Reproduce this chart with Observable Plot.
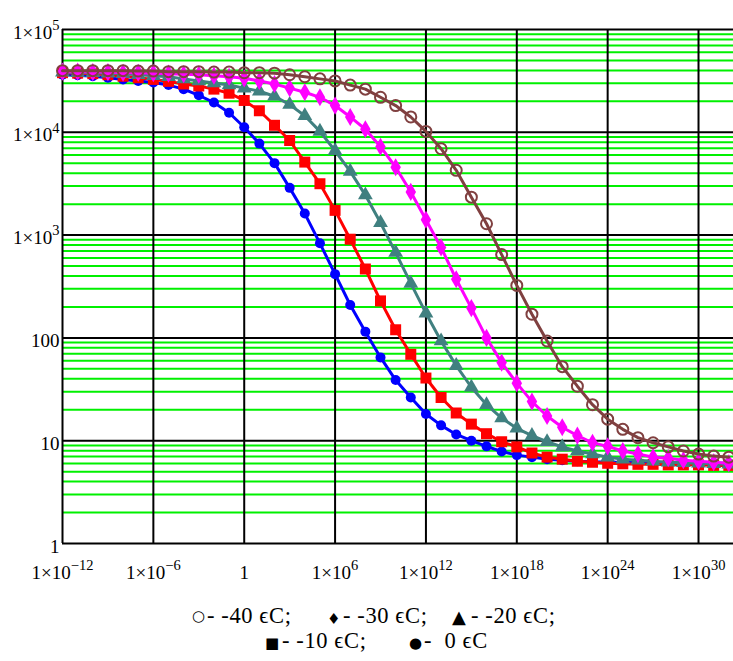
<!DOCTYPE html>
<html><head><meta charset="utf-8">
<script src="https://cdn.jsdelivr.net/npm/d3@7"></script>
<script src="https://cdn.jsdelivr.net/npm/@observablehq/plot@0.6"></script>
<style>
body{margin:0;background:#fff;position:relative;width:733px;height:661px;overflow:hidden;}
#legend{position:absolute;left:0;top:0;width:733px;height:661px;pointer-events:none;font-family:"Liberation Serif","Times New Roman",serif;font-size:22.5px;letter-spacing:0.6px;color:#000;}
#legend span{position:absolute;white-space:pre;line-height:20px;}
#legend span.sym{font-family:"DejaVu Sans",sans-serif;font-size:15px;line-height:15px;letter-spacing:0;}
</style></head><body>
<div id="chart"></div>
<div id="legend"></div>
<script>
// decade exponents of the x positions (1e-12 ... 1e32)
const exponents = [-12,-11,-10,-9,-8,-7,-6,-5,-4,-3,-2,-1,0,1,2,3,4,5,6,7,8,9,10,11,12,13,14,15,16,17,18,19,20,21,22,23,24,25,26,27,28,29,30,31,32];

const s0 = [36300,35900,35100,33900,32700,31600,30500,28800,26300,22900,19500,15500,11200,7760,5010,2880,1620,832,417,209,115,64.6,38.9,26.3,18.2,14.1,11.5,10.0,8.81,7.85,7.24,6.92,6.61,6.46,6.31,6.24,6.17,6.17,6.10,6.10,6.03,6.03,6.03,6.03,6.03];
const s10 = [38000,37600,37200,36300,35100,33900,32700,31300,29500,28200,26300,24000,20400,16200,11700,8320,5130,3160,1740,912,468,229,120,69.2,40.7,26.3,18.6,14.5,11.7,9.77,8.71,7.59,6.92,6.61,6.31,6.17,6.03,5.96,5.89,5.89,5.82,5.82,5.82,5.75,5.75];
const s20 = [38500,38000,38000,37600,37200,36300,35500,34700,33100,31600,30200,28800,26900,25100,22400,18600,14500,10200,6610,4170,2450,1320,676,339,174,93.3,53.7,33.1,22.4,16.6,13.2,11.2,9.77,8.71,7.94,7.41,6.92,6.61,6.46,6.31,6.17,6.10,6.03,5.96,5.89];
const s30 = [38900,38900,38500,38500,38000,38000,37600,37200,36700,36300,35500,34700,33500,31600,29500,26900,24500,21900,18200,14100,10700,7240,4570,2630,1410,759,372,195,100,57.5,36.3,24.0,17.4,13.5,11.2,9.55,8.81,7.94,7.41,6.92,6.76,6.46,6.31,6.17,6.03];
const s40 = [39800,39800,39800,39800,39800,39400,39400,38900,38900,38900,38500,38500,38000,38000,37600,36300,34700,33100,31600,28800,26300,21900,18200,14100,10200,6920,4270,2340,1290,646,324,170,93.3,52.5,33.9,22.4,16.2,12.9,10.7,9.55,8.71,7.94,7.41,7.08,6.92];

const xTicks = [1e-12, 1e-6, 1, 1e6, 1e12, 1e18, 1e24, 1e30];
const xTickLabels = ["1×10^−12","1×10^−6","1","1×10^6","1×10^12","1×10^18","1×10^24","1×10^30"];
const yTicks = [1, 10, 100, 1e3, 1e4, 1e5];
const yTickLabels = ["1","10","100","1×10^3","1×10^4","1×10^5"];
const minorMultipliers = [2,3,4,5,6,7,8,9];

const legendSymbols = ["○","♦","▲","■","●"];
const legendTexts = ["- -40 ϵC;","- -30 ϵC;","- -20 ϵC;","- -10 ϵC;","-  0 ϵC"];

const xLab = new Map(xTicks.map((d,i)=>[d,xTickLabels[i]]));
const yLab = new Map(yTicks.map((d,i)=>[d,yTickLabels[i]]));
const yMinor = [];
for (const d of yTicks.slice(0,-1)) for (const m of minorMultipliers) yMinor.push(d*m);

const rows = v => exponents.map((e,i)=>({x: Math.pow(10,e), y: v[i]}));

const series = [
  {values: s0,  color: "#0000ff", symbol: "circle",   r: 5,   fill: true},
  {values: s10, color: "#ff0000", symbol: "square",   r: 6.2, fill: true},
  {values: s20, color: "#408080", symbol: "triangle", r: 5.5, fill: true},
  {values: s30, color: "#ff00ff", symbol: "diamond",  r: 5.5, fill: true},
  {values: s40, color: "#804040", symbol: "circle",   r: 5.5, fill: false}
];

const marks = [
  Plot.ruleY(yMinor, {stroke: "#00f000", strokeWidth: 2}),
  Plot.ruleY(yTicks, {stroke: "#000", strokeWidth: 2}),
  Plot.ruleX(xTicks, {stroke: "#000", strokeWidth: 2})
];
for (const s of series) {
  const data = rows(s.values);
  marks.push(Plot.line(data, {x: "x", y: "y", stroke: s.color, strokeWidth: 3}));
  marks.push(Plot.dot(data, s.fill
    ? {x: "x", y: "y", symbol: () => s.symbol, r: s.r, fill: s.color, stroke: "none"}
    : {x: "x", y: "y", symbol: () => s.symbol, r: s.r, fill: "none", stroke: s.color, strokeWidth: 2}));
}
marks.push(Plot.axisX({ticks: xTicks, tickFormat: d => xLab.get(d), tickSize: 0, tickPadding: 22}));
marks.push(Plot.axisY({ticks: yTicks, tickFormat: d => yLab.get(d), tickSize: 0, tickPadding: 3, dy: 3}));

const chart = Plot.plot({
  width: 733,
  height: 600,
  marginLeft: 62,
  marginRight: 0,
  marginTop: 29,
  marginBottom: 57,
  style: {fontFamily: "'Liberation Serif','Times New Roman',serif", fontSize: "19px", background: "#fff", color: "#000"},
  x: {type: "log", domain: [1e-12, Math.pow(10, 32.31)], label: null},
  y: {type: "log", domain: [1, 1e5], label: null},
  symbol: {type: "identity"},
  marks
});

const ns = "http://www.w3.org/2000/svg";
chart.querySelectorAll("text").forEach(t => {
  t.setAttribute("font-size", "19");
  t.style.fontSize = "19px";
  t.style.fontVariant = "normal";
  const s = t.textContent;
  if (s.includes("^")) {
    const [base, exp] = s.split("^");
    t.textContent = "";
    const a = document.createElementNS(ns, "tspan"); a.textContent = base; t.appendChild(a);
    const b = document.createElementNS(ns, "tspan"); b.textContent = exp;
    b.setAttribute("dy", "-0.6em"); b.style.fontSize = "14.5px"; t.appendChild(b);
  }
});
document.getElementById("chart").appendChild(chart);

// legend placement: [symbol left, text left, text top, symbol top, symbol font px]
const legendPos = [[192,207,606,609,15],[327,343,606,612,15],[452,471,606,608,18],[265,282,631,636,15],[409,424,631,636,15]];
const leg = document.getElementById("legend");
legendSymbols.forEach((sym, i) => {
  const [xs, xt, top, stop, fs] = legendPos[i];
  const a = document.createElement("span");
  a.className = "sym"; a.textContent = sym;
  a.style.left = xs + "px"; a.style.top = stop + "px";
  a.style.fontSize = fs + "px"; a.style.lineHeight = fs + "px";
  leg.appendChild(a);
  const b = document.createElement("span");
  b.textContent = legendTexts[i];
  b.style.left = xt + "px"; b.style.top = top + "px";
  leg.appendChild(b);
});
</script>
</body></html>
